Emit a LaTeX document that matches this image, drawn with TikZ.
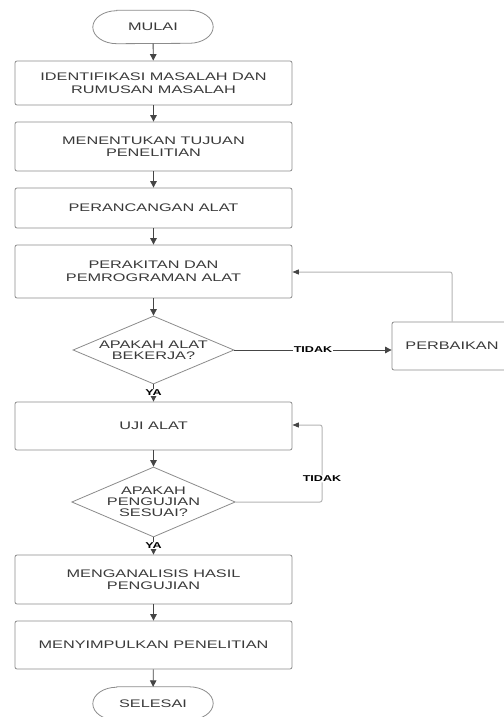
\documentclass[tikz,border=0pt]{standalone}
\usepackage{fontspec}
\setmainfont{Liberation Sans}[FakeStretch=1.48]
\usetikzlibrary{shapes.geometric,arrows.meta}
\definecolor{txt}{HTML}{3A3A3A}
\definecolor{bord}{HTML}{8C8C8C}
\definecolor{arr}{HTML}{454545}
\definecolor{fb}{HTML}{B4B4B4}
\tikzset{
  procbox/.style={draw=bord, line width=0.8pt, rounded corners=2pt, minimum width=277pt, align=center, text=txt, font=\fontsize{11}{12.5}\selectfont, inner sep=0pt},
  termbox/.style={rectangle, minimum width=120pt, minimum height=33pt, text=txt, font=\fontsize{11}{12.5}\selectfont, inner sep=0pt},
  termline/.style={draw=bord, line width=0.8pt},
  decbox/.style={draw=bord, line width=0.8pt, diamond, aspect=2.37, minimum width=161pt, minimum height=68pt, align=center, text=txt, font=\fontsize{11}{11}\selectfont, inner sep=0pt},
  flow/.style={draw=arr, line width=0.9pt, -{Triangle[length=6.5pt,width=6.5pt]}},
  back/.style={draw=fb, line width=1pt, -{Triangle[length=6.5pt,width=5pt,color=arr]}},
  lbl/.style={font=\fontsize{8.5}{9}\selectfont\bfseries, text=black, fill=white, inner sep=0.5pt}
}
\begin{document}
\begin{tikzpicture}[x=1pt,y=-1pt]
\useasboundingbox[fill=white] (0,0) rectangle (503,717);
\node[termbox] (start) at (153,27) {MULAI};
\draw[termline] ([xshift=24pt]start.north west) -- ([xshift=-24pt]start.north east)
  arc[start angle=90, end angle=-90, x radius=24pt, y radius=16.5pt]
  -- ([xshift=24pt]start.south west)
  arc[start angle=270, end angle=90, x radius=24pt, y radius=16.5pt] -- cycle;
\node[procbox, minimum height=44pt] (b1) at (153.5,83) {IDENTIFIKASI MASALAH DAN\\RUMUSAN MASALAH};
\node[procbox, minimum height=49pt] (b2) at (153.5,146.5) {MENENTUKAN TUJUAN\\PENELITIAN};
\node[procbox, minimum height=40pt] (b3) at (153.5,208) {PERANCANGAN ALAT};
\node[procbox, minimum height=53pt] (b4) at (153.5,271.5) {PERAKITAN DAN\\PEMROGRAMAN ALAT};
\node[decbox] (d1) at (153.5,350) {APAKAH ALAT\\BEKERJA?};
\node[procbox, minimum width=120pt, minimum height=48pt] (per) at (452,346) {PERBAIKAN};
\node[procbox, minimum height=48pt] (b5) at (153.5,426) {UJI ALAT};
\node[decbox, minimum height=70pt] (d2) at (153.5,502) {APAKAH\\PENGUJIAN\\SESUAI?};
\node[procbox, minimum height=49pt] (b6) at (153.5,579.5) {MENGANALISIS HASIL\\PENGUJIAN};
\node[procbox, minimum height=48pt] (b7) at (153.5,645) {MENYIMPULKAN PENELITIAN};
\node[termbox] (end) at (153,703.5) {SELESAI};
\draw[termline] ([xshift=24pt]end.north west) -- ([xshift=-24pt]end.north east)
  arc[start angle=90, end angle=-90, x radius=24pt, y radius=16.5pt]
  -- ([xshift=24pt]end.south west)
  arc[start angle=270, end angle=90, x radius=24pt, y radius=16.5pt] -- cycle;
\draw[flow] (start) -- (b1);
\draw[flow] (b1) -- (b2);
\draw[flow] (b2) -- (b3);
\draw[flow] (b3) -- (b4);
\draw[flow] (b4) -- (d1);
\draw[flow] (d1.south) -- node[lbl, pos=0.45] {YA} (b5.north);
\draw[flow] (d1.east) -- node[lbl, pos=0.5] {TIDAK} (d1.east -| per.west);
\coordinate (c1) at (452,272);
\draw[back, rounded corners=2pt] (per.north -| c1) -- (c1) -- (b4.east |- c1);
\draw[flow] (b5) -- (d2);
\coordinate (c2) at (322,425);
\draw[back, rounded corners=2pt] (d2.east) -- (d2.east -| c2) -- node[lbl, pos=0.3] {TIDAK} (c2) -- (b5.east |- c2);
\draw[flow] (d2.south) -- node[lbl, pos=0.45] {YA} (b6.north);
\draw[flow] (b6) -- (b7);
\draw[flow] (b7) -- (end);
\end{tikzpicture}
\end{document}
